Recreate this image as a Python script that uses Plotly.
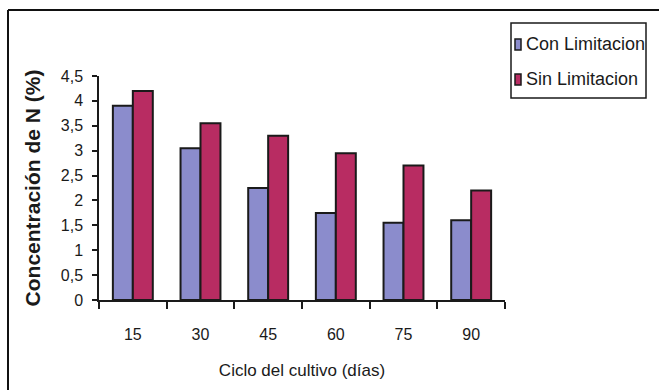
import plotly.graph_objects as go

# Nitrogen concentration over the crop cycle, with and without limitation
dias = ["15", "30", "45", "60", "75", "90"]
series_names = ["Con Limitacion", "Sin Limitacion"]
con_limitacion = [3.9, 3.05, 2.25, 1.75, 1.55, 1.6]
sin_limitacion = [4.2, 3.55, 3.3, 2.95, 2.7, 2.2]
y_tick_vals = [0, 0.5, 1, 1.5, 2, 2.5, 3, 3.5, 4, 4.5]
y_tick_text = ["0", "0,5", "1", "1,5", "2", "2,5", "3", "3,5", "4", "4,5"]

FONT = "Liberation Sans, Arial, sans-serif"
INK = "#1a1a1a"
COLORS = ["#8b8ccc", "#b82c62"]

W, H = 659, 390
L, R, T, B = 99, 154, 76, 90
pw, ph = W - L - R, H - T - B


def px_x(x):
    return (x - L) / pw


def px_y(y):
    return (H - B - y) / ph


fig = go.Figure()
for name, vals, col in zip(series_names, [con_limitacion, sin_limitacion], COLORS):
    fig.add_trace(go.Bar(
        x=dias, y=vals, name=name,
        marker=dict(color=col, line=dict(color=INK, width=2)),
    ))

# Legend box with swatches and labels
shapes = [
    dict(type="rect", xref="paper", yref="paper",
         x0=px_x(511), x1=px_x(646), y0=px_y(23), y1=px_y(98),
         line=dict(color=INK, width=1.5), fillcolor="white"),
]
annotations = []
for i, (name, col) in enumerate(zip(series_names, COLORS)):
    cy = 44 + 35 * i
    shapes.append(dict(type="rect", xref="paper", yref="paper",
                       x0=px_x(515), x1=px_x(521), y0=px_y(cy - 5), y1=px_y(cy + 6),
                       line=dict(color=INK, width=1.5), fillcolor=col))
    annotations.append(dict(xref="paper", yref="paper", x=px_x(524), y=px_y(cy),
                            xanchor="left", yanchor="middle", showarrow=False,
                            text=name, font=dict(family=FONT, size=18, color=INK)))

# Outer frame, open at the right and bottom edges
shapes += [
    dict(type="line", xref="paper", yref="paper",
         x0=px_x(8), x1=px_x(W + 5), y0=px_y(10), y1=px_y(10),
         line=dict(color="#111111", width=2)),
    dict(type="line", xref="paper", yref="paper",
         x0=px_x(8), x1=px_x(8), y0=px_y(10), y1=px_y(H + 5),
         line=dict(color="#111111", width=2)),
]

fig.update_layout(
    width=W, height=H,
    margin=dict(l=L, r=R, t=T, b=B, pad=0),
    paper_bgcolor="white", plot_bgcolor="white",
    barmode="group", bargap=0.41, bargroupgap=0,
    font=dict(family=FONT, size=16, color=INK),
    showlegend=False,
    xaxis=dict(
        type="category", tickson="boundaries",
        ticks="outside", ticklen=7, tickwidth=1.5, tickcolor=INK,
        showline=True, linecolor=INK, linewidth=1.5,
        showgrid=False, zeroline=False,
        tickfont=dict(family=FONT, size=16, color=INK),
        ticklabelstandoff=19,
        title=dict(text="Ciclo del cultivo (días)", standoff=22,
                   font=dict(family=FONT, size=17, color=INK)),
    ),
    yaxis=dict(
        range=[0, 4.5], tickvals=y_tick_vals, ticktext=y_tick_text,
        ticks="outside", ticklen=5, tickwidth=1.5, tickcolor=INK,
        showline=True, linecolor=INK, linewidth=1.5,
        showgrid=False, zeroline=False,
        tickfont=dict(family=FONT, size=16, color=INK),
        ticklabelstandoff=6,
        title=dict(text="<b>Concentración de N (%)</b>", standoff=14,
                   font=dict(family=FONT, size=21, color=INK)),
    ),
    shapes=shapes,
    annotations=annotations,
)

fig.write_html("out.html")
